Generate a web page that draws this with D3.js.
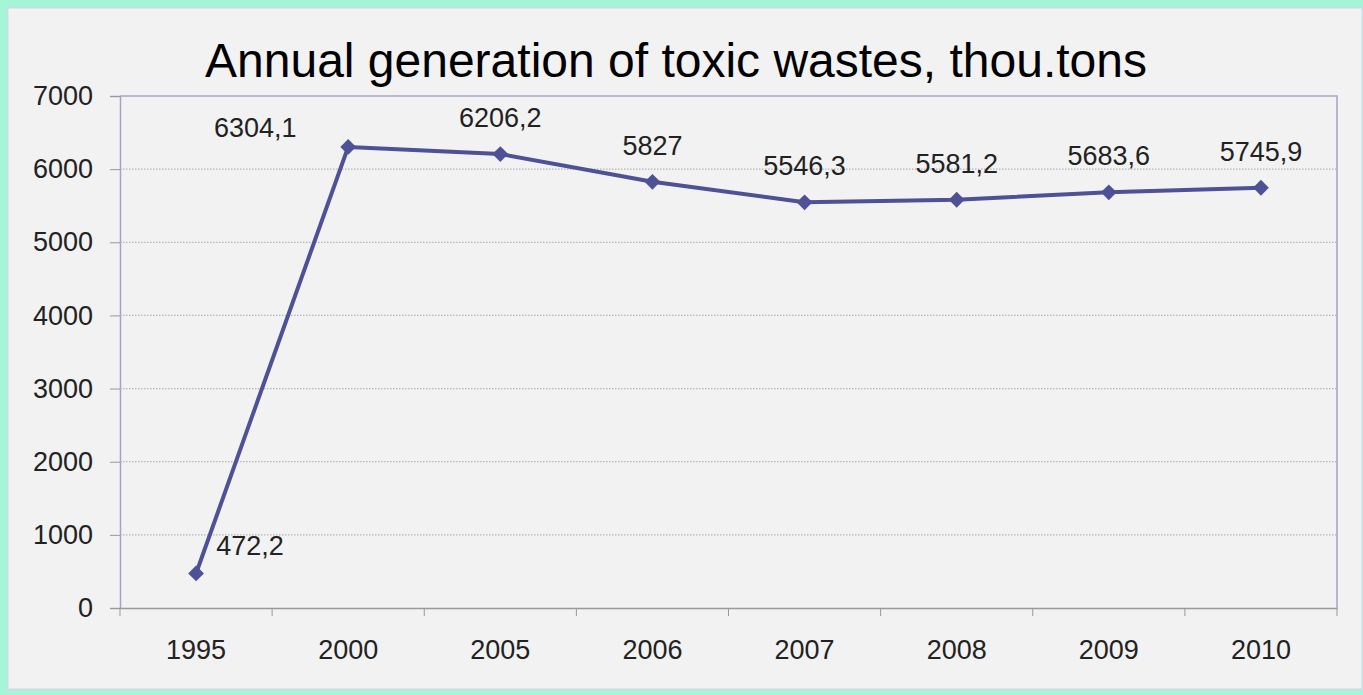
<!DOCTYPE html>
<html>
<head>
<meta charset="utf-8">
<script src="https://cdn.jsdelivr.net/npm/d3@7"></script>
<style>
  html, body { margin: 0; padding: 0; background: #a3f7d6; }
  svg { display: block; }
  text { font-family: "Liberation Sans", Arial, sans-serif; }
</style>
</head>
<body>
<div id="chart"></div>
<script>
// Data
var years = ['1995', '2000', '2005', '2006', '2007', '2008', '2009', '2010'];
var values = [472.2, 6304.1, 6206.2, 5827, 5546.3, 5581.2, 5683.6, 5745.9];
var labels = ['472,2', '6304,1', '6206,2', '5827', '5546,3', '5581,2', '5683,6', '5745,9'];
var yTicks = [0, 1000, 2000, 3000, 4000, 5000, 6000, 7000];

var W = 1363, H = 695;
var margins = {left: 120, right: 26, top: 96, bottom: 87};
var width = W - margins.left - margins.right;
var height = H - margins.top - margins.bottom;
var fontFamily = '"Liberation Sans", Arial, sans-serif';

var svg = d3.select('#chart').append('svg')
  .attr('width', W)
  .attr('height', H);

// panel background
svg.append('rect')
  .attr('x', 7.5).attr('y', 7.5)
  .attr('width', W - 8).attr('height', H - 13)
  .attr('fill', '#f2f2f2')
  .attr('stroke', '#c9dde3')
  .attr('stroke-width', 2);

svg.append('text')
  .attr('x', 676).attr('y', 77)
  .attr('text-anchor', 'middle')
  .style('font-family', fontFamily)
  .style('font-size', '48px')
  .attr('fill', '#000')
  .text('Annual generation of toxic wastes, thou.tons');

var g = svg.append('g')
  .attr('transform', 'translate(' + margins.left + ',' + margins.top + ')');

var x = d3.scaleBand().domain(years).range([0, width]);
var y = d3.scaleLinear().domain([0, 7000]).range([height, 0]);

// grid lines
g.selectAll('line.grid').data(yTicks.filter(function(d) { return d > 0 && d < 7000; }))
  .enter().append('line')
  .classed('grid', true)
  .attr('x1', 0).attr('x2', width)
  .attr('y1', function(d) { return y(d); })
  .attr('y2', function(d) { return y(d); })
  .attr('stroke', '#b4b4bc')
  .attr('stroke-width', 1.3)
  .attr('stroke-dasharray', '1.5,1.5');

// plot frame (top and right)
g.append('path')
  .attr('d', 'M0,0H' + width + 'V' + height)
  .attr('fill', 'none')
  .attr('stroke', '#a4a4c4')
  .attr('stroke-width', 1.5);

// y axis
var yAxis = g.append('g')
  .call(d3.axisLeft(y).tickValues(yTicks).tickFormat(d3.format('d')).tickSize(10).tickPadding(17));
yAxis.select('.domain').attr('stroke', '#a4a4c4').attr('stroke-width', 1.5);
yAxis.selectAll('.tick line').attr('stroke', '#999').attr('stroke-width', 1);
yAxis.selectAll('text')
  .style('font-family', fontFamily)
  .style('font-size', '27px')
  .attr('fill', '#222');

// x axis, ticks on category boundaries
var xAxis = g.append('g')
  .attr('transform', 'translate(0,' + height + ')')
  .call(d3.axisBottom(x).tickSize(0).tickPadding(32));
xAxis.select('.domain').attr('stroke', '#999').attr('stroke-width', 1.5);
xAxis.selectAll('text')
  .style('font-family', fontFamily)
  .style('font-size', '27px')
  .attr('fill', '#222');
xAxis.selectAll('line.bound').data(d3.range(years.length + 1))
  .enter().append('line')
  .classed('bound', true)
  .attr('x1', function(i) { return i * x.bandwidth(); })
  .attr('x2', function(i) { return i * x.bandwidth(); })
  .attr('y1', 0).attr('y2', 8)
  .attr('stroke', '#999')
  .attr('stroke-width', 1);

var cx = function(d, i) { return x(years[i]) + x.bandwidth() / 2; };

var line = d3.line()
  .x(function(d, i) { return cx(d, i); })
  .y(function(d) { return y(d); });

g.append('path')
  .datum(values)
  .attr('d', line)
  .attr('fill', 'none')
  .attr('stroke', '#4e5196')
  .attr('stroke-width', 4)
  .attr('stroke-linejoin', 'round');

g.selectAll('path.marker').data(values)
  .enter().append('path')
  .classed('marker', true)
  .attr('d', d3.symbol().type(d3.symbolSquare).size(125))
  .attr('transform', function(d, i) { return 'translate(' + cx(d, i) + ',' + y(d) + ') rotate(45)'; })
  .attr('fill', '#4e5196');

// label offsets from the point (dx, dy); first two are moved off the line
var labelOffset = function(i) {
  if (i === 0) return [54, -18];
  if (i === 1) return [-93, -10];
  return [0, -27];
};

g.selectAll('text.lbl').data(values)
  .enter().append('text')
  .classed('lbl', true)
  .attr('x', function(d, i) { return cx(d, i) + labelOffset(i)[0]; })
  .attr('y', function(d, i) { return y(d) + labelOffset(i)[1]; })
  .attr('text-anchor', 'middle')
  .style('font-family', fontFamily)
  .style('font-size', '27px')
  .attr('fill', '#222')
  .text(function(d, i) { return labels[i]; });
</script>
</body>
</html>
